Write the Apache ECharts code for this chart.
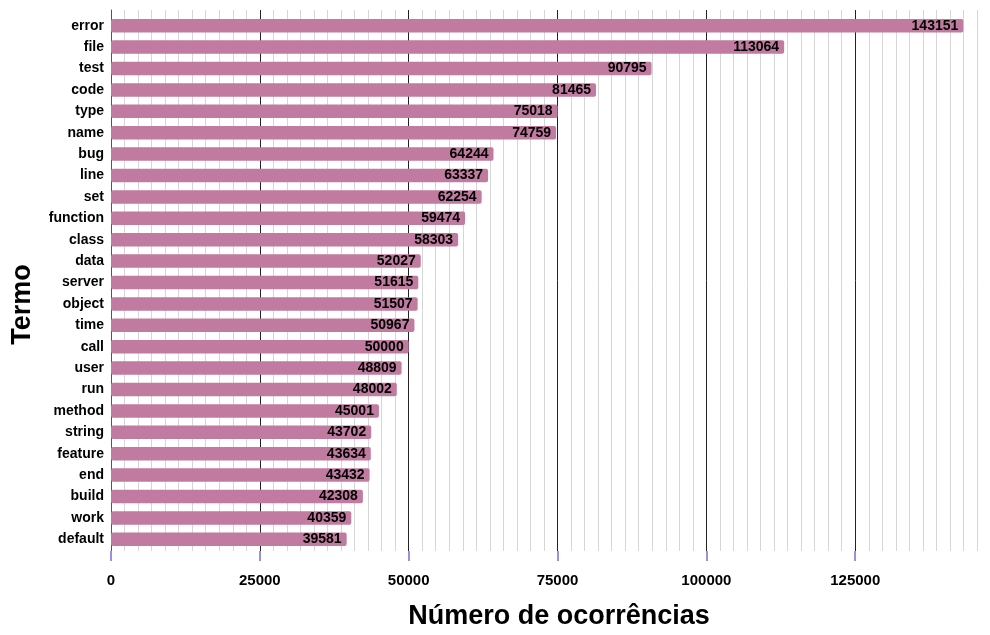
<!DOCTYPE html>
<html><head><meta charset="utf-8">
<script src="https://cdn.jsdelivr.net/npm/echarts@6/dist/echarts.min.js"></script>
<style>html,body{margin:0;padding:0;background:#fff}#c{width:990px;height:635px}</style>
</head><body><div id="c"></div>
<script>
const categories = ["error","file","test","code","type","name","bug","line","set","function","class","data","server","object","time","call","user","run","method","string","feature","end","build","work","default"];
const values = [143151,113064,90795,81465,75018,74759,64244,63337,62254,59474,58303,52027,51615,51507,50967,50000,48809,48002,45001,43702,43634,43432,42308,40359,39581];
const majorStep = 25000;
const minorSplit = 11;
const axisMax = 125000 + majorStep * 9 / minorSplit;
const xTitle = "Número de ocorrências";
const yTitle = "Termo";

const font = '"Liberation Sans", Arial, sans-serif';
const chart = echarts.init(document.getElementById('c'));
chart.setOption({
  animation: false,
  backgroundColor: '#fff',
  grid: [
    { left: 111, right: 13, top: 10, bottom: 83 },
    { left: 111, right: 13, top: 15, bottom: 85 }
  ],
  xAxis: [
    {
      type: 'value', gridIndex: 0, min: 0, max: axisMax, interval: majorStep / minorSplit,
      axisLine: { show: false }, axisTick: { show: false }, axisLabel: { show: false },
      splitLine: { show: true, showMinLine: false, lineStyle: { color: '#d6d6d6', width: 1 } }
    },
    {
      type: 'value', gridIndex: 0, min: 0, max: axisMax, interval: majorStep, position: 'bottom',
      axisLine: { show: false },
      axisTick: { show: true, length: 10, lineStyle: { color: '#9c90e6', width: 2, opacity: 1 } },
      axisLabel: { show: true, showMaxLabel: false, margin: 22, color: '#000', fontFamily: font, fontWeight: 'bold', fontSize: 15, formatter: v => String(v) },
      splitLine: { show: true, showMinLine: false, showMaxLine: false, lineStyle: { color: '#222', width: 1 } },
      name: xTitle, nameLocation: 'middle', nameGap: 52,
      nameTextStyle: { color: '#000', fontFamily: font, fontWeight: 'bold', fontSize: 27, padding: [0, 0, 0, 30] }
    },
    {
      type: 'value', gridIndex: 1, min: 0, max: axisMax, show: false
    }
  ],
  yAxis: [
    {
      type: 'category', gridIndex: 0, data: categories, inverse: true,
      axisLine: { show: true, lineStyle: { color: '#555', width: 1 } },
      axisTick: { show: false }, axisLabel: { show: false },
      name: yTitle, nameLocation: 'middle', nameGap: 75, nameRotate: 90,
      nameTextStyle: { color: '#000', fontFamily: font, fontWeight: 'bold', fontSize: 27, padding: [0, 48, 0, 0] }
    },
    {
      type: 'category', gridIndex: 1, data: categories, inverse: true,
      axisLine: { show: false }, axisTick: { show: false },
      axisLabel: { color: '#000', fontFamily: font, fontWeight: 'bold', fontSize: 14, margin: 7 }
    }
  ],
  series: [{
    type: 'bar', data: values, xAxisIndex: 2, yAxisIndex: 1,
    barCategoryGap: '37%',
    itemStyle: { color: '#c27ba0', borderRadius: 2 },
    label: { show: true, position: 'insideRight', distance: 5, color: '#000', fontFamily: font, fontWeight: 'bold', fontSize: 14 }
  }]
});
</script></body></html>
